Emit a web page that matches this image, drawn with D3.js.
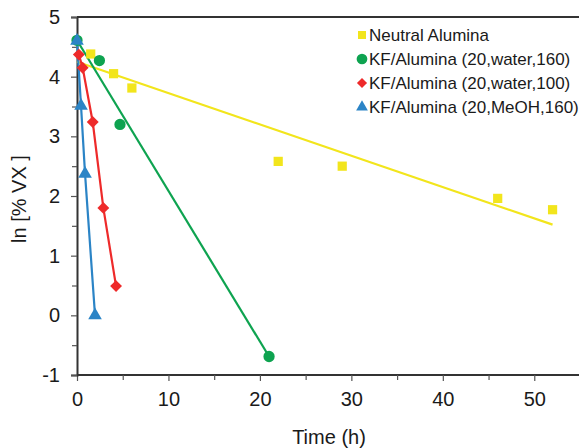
<!DOCTYPE html>
<html>
<head>
<meta charset="utf-8">
<script src="https://cdn.jsdelivr.net/npm/d3@7"></script>
<style>
  body { margin: 0; background: #fff; }
  text { font-family: "Liberation Sans", Arial, sans-serif; fill: #1a1a1a; }
</style>
</head>
<body>
<div id="chart"></div>
<script>
// Chart data
const seriesNames = [
  'Neutral Alumina',
  'KF/Alumina (20,water,160)',
  'KF/Alumina (20,water,100)',
  'KF/Alumina (20,MeOH,160)'
];
const neutralX = [1.5, 4.0, 6.0, 22, 29, 46, 52];
const neutralY = [4.38, 4.05, 3.81, 2.58, 2.5, 1.96, 1.77];
const kfWater160X = [0, 2.45, 4.7, 21];
const kfWater160Y = [4.61, 4.27, 3.2, -0.69];
const kfWater100X = [0.2, 0.62, 1.72, 2.88, 4.27];
const kfWater100Y = [4.37, 4.15, 3.24, 1.8, 0.49];
const kfMeohX = [0, 0.44, 0.88, 1.97];
const kfMeohY = [4.6, 3.51, 2.37, 0.0];
// fitted trend lines (end points)
const neutralFitX = [0, 52];
const neutralFitY = [4.25, 1.52];
const kfWater160FitX = [0, 21];
const kfWater160FitY = [4.61, -0.69];

const xTicks = [0, 10, 20, 30, 40, 50];
const xMinor = [5, 15, 25, 35, 45];
const yTicks = [-1, 0, 1, 2, 3, 4, 5];
const yMinor = [-0.5, 0.5, 1.5, 2.5, 3.5, 4.5];

const colors = ['#f2e51c', '#0ea350', '#ee2a2a', '#2b84c6'];

const WIDTH = 579, HEIGHT = 448;
const MARGIN = { LEFT: 77, TOP: 17, BOTTOM: 75 };

const svg = d3.select('#chart')
  .append('svg')
  .attr('width', WIDTH)
  .attr('height', HEIGHT);

const x = d3.scaleLinear().domain([0, 55]).range([MARGIN.LEFT, 580]);
const y = d3.scaleLinear().domain([-1, 5]).range([HEIGHT - MARGIN.BOTTOM + 2, MARGIN.TOP]);

const zip = (xs, ys) => xs.map((v, i) => ({ x: v, y: ys[i] }));
const fmt = d => String(d);

// frame top line
svg.append('line')
  .attr('x1', x(0)).attr('x2', WIDTH)
  .attr('y1', y(5)).attr('y2', y(5))
  .attr('stroke', '#333').attr('stroke-width', 2);

// x axis
const xAxis = svg.append('g')
  .attr('transform', `translate(0,${y(-1)})`)
  .call(d3.axisBottom(x).tickValues(xTicks).tickFormat(fmt).tickSize(6).tickPadding(11));
svg.append('g')
  .attr('transform', `translate(0,${y(-1)})`)
  .call(d3.axisBottom(x).tickValues(xMinor).tickSize(5).tickFormat(''))
  .select('.domain').remove();

// y axis
const yAxis = svg.append('g')
  .attr('transform', `translate(${x(0)},0)`)
  .call(d3.axisLeft(y).tickValues(yTicks).tickFormat(fmt).tickSize(6).tickPadding(11));
svg.append('g')
  .attr('transform', `translate(${x(0)},0)`)
  .call(d3.axisLeft(y).tickValues(yMinor).tickSize(5).tickFormat(''))
  .select('.domain').remove();

svg.selectAll('.domain').attr('stroke', '#333').attr('stroke-width', 2);
svg.selectAll('.tick line').attr('stroke', '#555').attr('stroke-width', 1.2);
svg.selectAll('.tick text')
  .style('font-family', '"Liberation Sans", Arial, sans-serif')
  .style('font-size', '20px')
  .attr('fill', '#1a1a1a');
xAxis.select('.domain').attr('d', `M${x(0)},0H${WIDTH}`);

// axis titles
svg.append('text')
  .attr('x', 329).attr('y', 444)
  .attr('text-anchor', 'middle')
  .style('font-size', '20px')
  .text('Time (h)');
svg.append('text')
  .attr('transform', 'translate(26,199) rotate(-90)')
  .attr('text-anchor', 'middle')
  .style('font-size', '20px')
  .text('ln [% VX ]');

const line = d3.line().x(d => x(d.x)).y(d => y(d.y));

// trend / connecting lines
svg.append('path').datum(zip(neutralFitX, neutralFitY))
  .attr('d', line).attr('fill', 'none').attr('stroke', colors[0]).attr('stroke-width', 2.2);
svg.append('path').datum(zip(kfWater160FitX, kfWater160FitY))
  .attr('d', line).attr('fill', 'none').attr('stroke', colors[1]).attr('stroke-width', 2.2);
svg.append('path').datum(zip(kfWater100X, kfWater100Y))
  .attr('d', line).attr('fill', 'none').attr('stroke', colors[2]).attr('stroke-width', 2.2);
svg.append('path').datum(zip(kfMeohX, kfMeohY))
  .attr('d', line).attr('fill', 'none').attr('stroke', colors[3]).attr('stroke-width', 2.2);

// markers
const symbols = [
  d3.symbol().type(d3.symbolSquare).size(85),
  d3.symbol().type(d3.symbolCircle).size(100),
  d3.symbol().type(d3.symbolDiamond2).size(90),
  d3.symbol().type(d3.symbolTriangle).size(80)
];
const seriesData = [
  zip(neutralX, neutralY),
  zip(kfWater160X, kfWater160Y),
  zip(kfWater100X, kfWater100Y),
  zip(kfMeohX, kfMeohY)
];
seriesData.forEach(function(data, i) {
  svg.append('g')
    .selectAll('path')
    .data(data)
    .enter()
    .append('path')
    .attr('d', symbols[i])
    .attr('transform', d => `translate(${x(d.x)},${y(d.y)})`)
    .attr('fill', colors[i]);
});

// legend
const legendSymbols = [
  d3.symbol().type(d3.symbolSquare).size(64),
  d3.symbol().type(d3.symbolCircle).size(90),
  d3.symbol().type(d3.symbolDiamond2).size(65),
  d3.symbol().type(d3.symbolTriangle).size(60)
];
seriesNames.forEach(function(name, i) {
  const cy = 35 + i * 24;
  svg.append('path')
    .attr('d', legendSymbols[i])
    .attr('transform', `translate(362,${cy})`)
    .attr('fill', colors[i]);
  svg.append('text')
    .attr('x', 369)
    .attr('y', cy + 6)
    .style('font-size', '17px')
    .text(name);
});
</script>
</body>
</html>
